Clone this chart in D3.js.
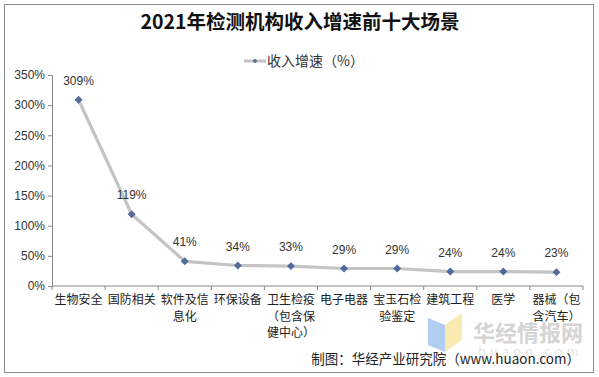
<!DOCTYPE html>
<html>
<head>
<meta charset="utf-8">
<script src="https://cdn.jsdelivr.net/npm/d3@7"></script>
<style>
  body { margin: 0; background: #fff; }
  svg text { font-family: "Noto Sans CJK SC", "Liberation Sans", sans-serif; }
</style>
</head>
<body>
<div id="chart"></div>
<script>
// data
const categories = ["生物安全", "国防相关", "软件及信息化", "环保设备", "卫生检疫（包含保健中心）",
  "电子电器", "宝玉石检验鉴定", "建筑工程", "医学", "器械（包含汽车）"];
const growth = [309, 119, 41, 34, 33, 29, 29, 24, 24, 23];
const yTicks = [0, 50, 100, 150, 200, 250, 300, 350];
const seriesName = "收入增速（%）";

const W = 599, H = 377;
const margin = {top: 75, right: 16, bottom: 91, left: 52};

const svg = d3.select("#chart").append("svg")
  .attr("width", W).attr("height", H);

// outer frame
svg.append("rect")
  .attr("x", 4.5).attr("y", 4.5)
  .attr("width", 589).attr("height", 368)
  .attr("fill", "#fff").attr("stroke", "#8c8c8c");

// title
svg.append("text")
  .attr("x", 300).attr("y", 29)
  .attr("text-anchor", "middle")
  .style("font-size", "19.5px").style("font-weight", "bold")
  .attr("fill", "#111")
  .text("2021年检测机构收入增速前十大场景");

// legend
const lg = svg.append("g").attr("transform", "translate(244,61)");
lg.append("line").attr("x1", 0).attr("x2", 22).attr("y1", 0).attr("y2", 0)
  .attr("stroke", "#c4c4c4").attr("stroke-width", 3);
lg.append("path").attr("d", d3.symbol(d3.symbolDiamond2, 14)())
  .attr("transform", "translate(11,0)").attr("fill", "#4f6a9b");
lg.append("text").attr("x", 23).attr("y", 5)
  .style("font-size", "14px").attr("fill", "#333")
  .text(seriesName);

const x = d3.scaleBand()
  .domain(categories)
  .range([margin.left, 583]);

const y = d3.scaleLinear()
  .domain([0, 350])
  .range([286, 75]);

// y axis
const yAxis = svg.append("g")
  .attr("transform", `translate(${margin.left},0)`)
  .call(d3.axisLeft(y).tickValues(yTicks).tickSize(4).tickFormat(d => d + "%"));
yAxis.select(".domain").attr("stroke", "#888");
yAxis.selectAll(".tick line").attr("stroke", "#888");
yAxis.selectAll("text").attr("fill", "#333").attr("x", -7)
  .style("font-size", "12px").style("font-family", "Liberation Sans, Arial, sans-serif");

// x axis, ticks on band edges
const xAxis = svg.append("g").attr("transform", "translate(0,286)");
xAxis.append("line").attr("x1", margin.left).attr("x2", 583)
  .attr("stroke", "#888");
xAxis.selectAll(".edge").data(d3.range(categories.length + 1)).enter()
  .append("line")
  .attr("x1", i => margin.left + i * x.step()).attr("x2", i => margin.left + i * x.step())
  .attr("y1", 0).attr("y2", 4).attr("stroke", "#888");

// category labels, 4 chars per line
categories.forEach(c => {
  const lines = [];
  for (let i = 0; i < c.length; i += 4) lines.push(c.slice(i, i + 4));
  const t = svg.append("text")
    .attr("text-anchor", "middle")
    .style("font-size", "12px").attr("fill", "#222");
  lines.forEach((l, i) => {
    t.append("tspan")
      .attr("x", x(c) + x.bandwidth() / 2)
      .attr("y", 304 + i * 16.5)
      .text(l);
  });
});

// line
const line = d3.line()
  .x((d, i) => x(categories[i]) + x.bandwidth() / 2)
  .y(d => y(d));
svg.append("path").datum(growth)
  .attr("d", line).attr("fill", "none")
  .attr("stroke", "#c4c4c4").attr("stroke-width", 3.2)
  .attr("stroke-linejoin", "round");

// markers
svg.selectAll(".pt").data(growth).enter()
  .append("path")
  .attr("d", d3.symbol(d3.symbolDiamond2, 40)())
  .attr("transform", (d, i) => `translate(${x(categories[i]) + x.bandwidth() / 2},${y(d)})`)
  .attr("fill", "#4f6a9b");

// value labels
svg.selectAll(".lbl").data(growth).enter()
  .append("text")
  .attr("x", (d, i) => x(categories[i]) + x.bandwidth() / 2)
  .attr("y", d => y(d) - 15)
  .attr("text-anchor", "middle")
  .style("font-size", "12px").style("font-family", "Liberation Sans, Arial, sans-serif")
  .attr("fill", "#333")
  .text(d => d + "%");

// watermark
const wm = svg.append("g");
wm.append("path").attr("d", "M428,318 L445,325 L445,352 L428,345 Z").attr("fill", "#a9c8f0").attr("opacity", 0.9);
wm.append("path").attr("d", "M445,325 L462,313 L462,340 L445,352 Z").attr("fill", "#f8e8a8").attr("opacity", 0.9);
wm.append("text").attr("x", 473).attr("y", 341)
  .style("font-size", "22px").style("font-weight", "bold")
  .attr("fill", "#d4d4d4").text("华经情报网");
wm.append("text").attr("x", 478).attr("y", 356)
  .style("font-size", "13px").style("letter-spacing", "4px")
  .attr("fill", "#e8e8e8").text("huaon.com");

// source
svg.append("text")
  .attr("x", 580).attr("y", 364)
  .attr("text-anchor", "end")
  .style("font-size", "13.5px").attr("fill", "#222")
  .text("制图：华经产业研究院（www.huaon.com）");
</script>
</body>
</html>
